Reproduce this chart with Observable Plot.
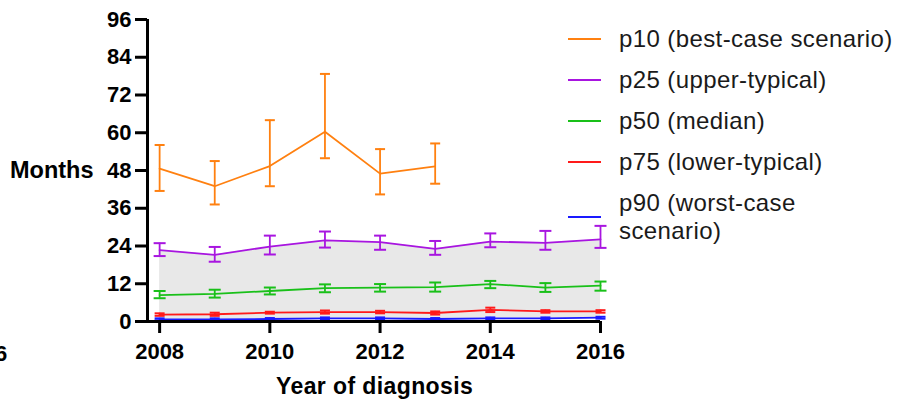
<!DOCTYPE html>
<html><head><meta charset="utf-8">
<script src="https://cdn.jsdelivr.net/npm/d3@7"></script>
<script src="https://cdn.jsdelivr.net/npm/@observablehq/plot@0.6"></script>
<style>
body{margin:0;background:#fff;font-family:"Liberation Sans",Arial,sans-serif;}
#wrap{position:relative;width:910px;height:404px;overflow:hidden;background:#fff;}
.ttl{position:absolute;font-weight:bold;font-size:23px;color:#000;white-space:nowrap;line-height:1;}
.leg{position:absolute;left:568px;font-size:24px;letter-spacing:0.4px;color:#1a1a1a;line-height:28px;white-space:nowrap;}
.leg svg{position:absolute;left:0;}
.leg span{position:absolute;left:51px;}
</style></head><body><div id="wrap"></div>
<script>
// ---- data ----
const years = [2008, 2009, 2010, 2011, 2012, 2013, 2014, 2015, 2016];
const p10   = [48.6, 43.0, 49.4, 60.3, 47.0, 49.3];
const p10Lo = [41.5, 37.2, 43.0, 51.9, 40.4, 43.8];
const p10Hi = [56.1, 51.0, 64.0, 78.7, 54.8, 56.6];
const p25   = [22.7, 21.2, 23.8, 25.8, 25.2, 23.1, 25.4, 25.0, 26.1];
const p25Lo = [20.8, 19.0, 21.3, 23.5, 22.8, 21.2, 23.6, 22.8, 23.4];
const p25Hi = [24.9, 23.7, 27.3, 28.6, 27.3, 25.6, 28.0, 28.8, 30.4];
const p50   = [8.4, 8.8, 9.7, 10.6, 10.8, 10.9, 11.9, 10.8, 11.4];
const p50Lo = [7.4, 7.6, 8.6, 9.3, 9.5, 9.5, 10.6, 9.4, 9.8];
const p50Hi = [9.7, 10.1, 10.8, 11.8, 11.9, 12.4, 12.9, 12.2, 12.7];
const p75   = [2.2, 2.3, 2.8, 3.0, 3.0, 2.7, 3.7, 3.2, 3.2];
const p75Lo = [1.8, 1.8, 2.5, 2.5, 2.6, 2.2, 3.0, 2.8, 2.8];
const p75Hi = [2.6, 2.8, 3.1, 3.5, 3.4, 3.2, 4.4, 3.6, 3.6];
const p90   = [0.7, 0.7, 0.8, 1.0, 1.0, 0.8, 1.0, 1.0, 1.2];
const p90Lo = [0.4, 0.4, 0.5, 0.7, 0.7, 0.5, 0.7, 0.7, 0.9];
const p90Hi = [1.0, 1.0, 1.1, 1.3, 1.3, 1.1, 1.3, 1.3, 1.5];
const seriesNames = ["p10 (best-case scenario)", "p25 (upper-typical)", "p50 (median)", "p75 (lower-typical)", "p90 (worst-case scenario)"];
const seriesColors = ["#ff8010", "#a815e0", "#19c019", "#ff1a1a", "#1a1aff"];
const yTicks = [0, 12, 24, 36, 48, 60, 72, 84, 96];
const xTicks = [2008, 2010, 2012, 2014, 2016];
const xLabel = "Year of diagnosis";
const yLabel = "Months";

// ---- build ----
const seriesData = [[p10, p10Lo, p10Hi], [p25, p25Lo, p25Hi], [p50, p50Lo, p50Hi], [p75, p75Lo, p75Hi], [p90, p90Lo, p90Hi]];
const rows = [];
seriesData.forEach(([v, lo, hi], s) => {
  v.forEach((val, i) => rows.push({s, year: years[i], v: val, lo: lo[i], hi: hi[i]}));
});
const band = years.map((y, i) => ({year: y, lo: p90[i], hi: p25[i]}));
const capSymbol = (hw) => ({draw(ctx) { ctx.moveTo(-hw, 0); ctx.lineTo(hw, 0); }});
const capW = [5, 6, 6, 5, 5];

const marks = [
  Plot.areaY(band, {x: "year", y1: "lo", y2: "hi", fill: "#e8e8e8"})
];
seriesNames.forEach((name, s) => {
  const d = rows.filter(r => r.s === s);
  const c = seriesColors[s];
  marks.push(Plot.line(d, {x: "year", y: "v", stroke: c, strokeWidth: 1.8}));
  marks.push(Plot.ruleX(d, {x: "year", y1: "lo", y2: "hi", stroke: c, strokeWidth: 1.8}));
  marks.push(Plot.dot(d, {x: "year", y: "lo", stroke: c, strokeWidth: 2, symbol: capSymbol(capW[s]), r: 5}));
  marks.push(Plot.dot(d, {x: "year", y: "hi", stroke: c, strokeWidth: 2, symbol: capSymbol(capW[s]), r: 5}));
});
marks.push(Plot.ruleY([0], {stroke: "#000", strokeWidth: 3}));
marks.push(Plot.ruleX([2007.78], {stroke: "#000", strokeWidth: 3}));
marks.push(Plot.axisY({ticks: yTicks, tickSize: 12, tickPadding: 4, strokeWidth: 3, label: null, tickFormat: d => String(d)}));
marks.push(Plot.axisX({ticks: xTicks, tickSize: 12, tickPadding: 10, strokeWidth: 3, label: null, tickFormat: d => String(d)}));

const chart = Plot.plot({
  width: 910, height: 404,
  marginLeft: 147, marginRight: 310, marginTop: 19, marginBottom: 83,
  x: {domain: [2007.78, 2016]},
  y: {domain: [0, 96]},
  style: {fontFamily: "Liberation Sans, Arial, sans-serif", fontSize: "22px", fontWeight: "bold", background: "white", color: "#000", overflow: "visible"},
  marks
});
const wrap = document.getElementById("wrap");
wrap.appendChild(chart);

// titles
const yl = document.createElement("div"); yl.className = "ttl"; yl.textContent = yLabel;
yl.style.left = "10px"; yl.style.top = "159px"; yl.style.fontSize = "23.5px"; wrap.appendChild(yl);
const xl = document.createElement("div"); xl.className = "ttl"; xl.textContent = xLabel;
xl.style.left = "276px"; xl.style.top = "375px"; xl.style.letterSpacing = "0.4px"; wrap.appendChild(xl);
const stray = document.createElement("div"); stray.className = "ttl"; stray.textContent = "6";
stray.style.left = "-5px"; stray.style.top = "343px"; stray.style.fontSize = "22px"; wrap.appendChild(stray);

// legend
const legTops = [39, 80, 121, 162, 217];
seriesNames.forEach((name, s) => {
  const row = document.createElement("div"); row.className = "leg";
  row.style.top = (legTops[s] - 14) + "px";
  const sv = d3.create("svg").attr("width", 34).attr("height", 28).style("top", "0px");
  sv.append("line").attr("x1", 0).attr("x2", 33).attr("y1", 14).attr("y2", 14).attr("stroke", seriesColors[s]).attr("stroke-width", 2);
  row.appendChild(sv.node());
  const sp = document.createElement("span");
  if (s === 4) {
    sp.innerHTML = "p90 (worst-case<br>scenario)";
    sp.style.top = "-14px";
  } else {
    sp.textContent = name; sp.style.top = "0px";
  }
  row.appendChild(sp);
  wrap.appendChild(row);
});
</script></body></html>
